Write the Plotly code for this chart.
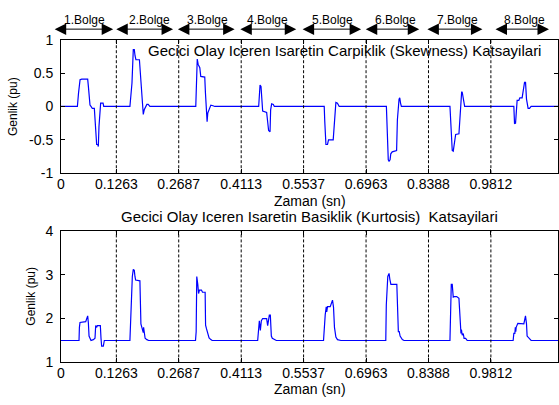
import plotly.graph_objects as go

# ---------------- data ----------------
x_ticks = [0, 0.1263, 0.2687, 0.4113, 0.5537, 0.6963, 0.8388, 0.9812]
x_ticktext = ["0", "0.1263", "0.2687", "0.4113", "0.5537", "0.6963", "0.8388", "0.9812"]
region_labels = ["1.Bolge", "2.Bolge", "3.Bolge", "4.Bolge", "5.Bolge", "6.Bolge", "7.Bolge", "8.Bolge"]

skew_t = [0,
          0.0374, 0.0400, 0.0435, 0.0473, 0.0609, 0.0625, 0.0639, 0.0655, 0.0662, 0.0685, 0.0715, 0.0761,
          0.0776, 0.0799, 0.0814, 0.0840, 0.0852, 0.0867, 0.0890, 0.0905, 0.0960, 0.0975,
          0.1573, 0.1590, 0.1620, 0.1650, 0.1673, 0.1690, 0.1710, 0.1790, 0.1801, 0.1825, 0.1840, 0.1860,
          0.1878, 0.1900, 0.1930, 0.1960, 0.1990, 0.2029,
          0.3076, 0.3090, 0.3110, 0.3131, 0.3168, 0.3190, 0.3281, 0.3297, 0.3310, 0.3325, 0.3335, 0.3350,
          0.3395, 0.3420, 0.3470, 0.3509,
          0.4512, 0.4530, 0.4543, 0.4565, 0.4580, 0.4603, 0.4694, 0.4710, 0.4739, 0.4771, 0.4785, 0.4808,
          0.4846, 0.4869,
          0.6008, 0.6020, 0.6047, 0.6083, 0.6106, 0.6213, 0.6236, 0.6255, 0.6274, 0.6310, 0.6350,
          0.7427, 0.7440, 0.7470, 0.7488, 0.7511, 0.7527, 0.7560, 0.7660, 0.7678, 0.7716, 0.7732, 0.7750, 0.7769,
          0.8878, 0.8908, 0.8930, 0.8953, 0.8985, 0.9008, 0.9083, 0.9106, 0.9130, 0.9145, 0.9159, 0.9174, 0.9213,
          1.0336, 1.0352, 1.0375, 1.0398, 1.0411, 1.0450, 1.0473, 1.0525, 1.0560, 1.0580, 1.0603, 1.0625,
          1.0662, 1.0694, 1.0730,
          1.14]
skew_v = [0,
          0, 0.20, 0.40, 0.41, 0.41, 0.30, 0.18, 0.18, 0.02, 0.0, -0.03, -0.03,
          -0.20, -0.50, -0.57, -0.57, -0.60, -0.30, -0.02, 0.05, 0.05, 0.0,
          0, 0.15, 0.35, 0.85, 0.85, 0.76, 0.70, 0.70, 0.60, 0.25, 0.12, -0.05,
          -0.12, -0.05, 0.0, 0.03, 0.03, 0.0,
          0, 0.45, 0.71, 0.63, 0.58, 0.45, 0.44, 0.20, 0.02, -0.15, -0.23, -0.10,
          0.0, 0.02, 0.01, 0.0,
          0, 0.22, 0.32, 0.30, 0.09, -0.07, -0.09, -0.22, -0.36, -0.38, -0.05, 0.04,
          0.03, 0.0,
          0, -0.22, -0.57, -0.57, -0.50, -0.50, -0.25, 0.0, 0.06, 0.05, 0.0,
          0, -0.35, -0.80, -0.82, -0.80, -0.71, -0.68, -0.66, -0.20, 0.11, 0.13, 0.05, 0.0,
          0, -0.37, -0.66, -0.67, -0.51, -0.42, -0.41, -0.10, 0.15, 0.22, 0.21, 0.13, 0.0,
          0, -0.26, -0.25, 0.0, 0.09, 0.09, 0.13, 0.13, 0.25, 0.36, 0.36, 0.11,
          -0.03, -0.03, 0.0,
          0]

kurt_t = [0,
          0.0411, 0.0420, 0.0434, 0.0564, 0.0590, 0.0609, 0.0625, 0.0640, 0.0662, 0.0685, 0.0738, 0.0776,
          0.0792, 0.0815, 0.0830, 0.0898, 0.0913, 0.0928, 0.0966, 0.0989,
          0.1573, 0.1585, 0.1628, 0.1650, 0.1673, 0.1688, 0.1703, 0.1801, 0.1824, 0.1850, 0.1878, 0.1885,
          0.1901, 0.1920, 0.1960, 0.2000,
          0.3070, 0.3085, 0.3099, 0.3110, 0.3122, 0.3140, 0.3160, 0.3206, 0.3230, 0.3290, 0.3300, 0.3320,
          0.3350, 0.3380, 0.3420, 0.3450,
          0.4489, 0.4511, 0.4527, 0.4550, 0.4573, 0.4603, 0.4694, 0.4717, 0.4755, 0.4778, 0.4801, 0.4823,
          0.4869, 0.4915,
          0.5992, 0.6008, 0.6031, 0.6054, 0.6065, 0.6083, 0.6145, 0.6197, 0.6220, 0.6242, 0.6274, 0.6311, 0.6389,
          0.7413, 0.7425, 0.7459, 0.7488, 0.7505, 0.7530, 0.7665, 0.7678, 0.7700, 0.7720, 0.7740, 0.7791, 0.7830,
          0.8878, 0.8885, 0.8908, 0.8930, 0.8953, 0.8976, 0.9031, 0.9083, 0.9106, 0.9129, 0.9140, 0.9158,
          0.9182, 0.9200, 0.9236, 0.9272,
          1.0320, 1.0336, 1.0359, 1.0370, 1.0380, 1.0389, 1.0427, 1.0525, 1.0564, 1.0602, 1.0625, 1.0639,
          1.0678, 1.0730,
          1.14]
kurt_v = [1.5,
          1.5, 1.80, 1.91, 1.93, 2.00, 2.06, 1.90, 1.60, 1.55, 1.50, 1.52, 1.55,
          1.84, 1.80, 1.84, 1.84, 1.55, 1.37, 1.37, 1.5,
          1.5, 1.95, 2.96, 3.12, 3.10, 2.96, 2.88, 2.86, 1.88, 1.78, 1.68, 1.80,
          1.62, 1.55, 1.52, 1.5,
          1.5, 1.70, 2.96, 2.90, 2.78, 2.57, 2.65, 2.65, 2.60, 2.60, 1.85, 1.77,
          1.66, 1.56, 1.52, 1.5,
          1.5, 1.95, 1.95, 1.73, 1.95, 2.00, 2.00, 1.84, 2.08, 2.08, 1.60, 1.55,
          1.52, 1.5,
          1.5, 1.90, 2.09, 2.27, 2.15, 2.27, 2.27, 2.42, 2.26, 1.80, 1.58, 1.52, 1.5,
          1.5, 2.31, 2.96, 3.03, 2.90, 2.78, 2.78, 2.31, 1.70, 1.70, 1.60, 1.52, 1.5,
          1.5, 2.02, 2.78, 2.78, 2.49, 2.50, 2.50, 2.46, 1.89, 1.66, 1.75, 1.62,
          1.66, 1.55, 1.55, 1.5,
          1.5, 1.66, 1.66, 1.80, 1.70, 1.80, 1.89, 1.89, 1.88, 2.06, 1.88, 1.60,
          1.55, 1.5,
          1.5]

# ---------------- figure ----------------
W, H = 559, 405
L = 61
FONT = "Liberation Sans, Arial, sans-serif"

def px_x(p):
    return (p - L) / (W - L)

def px_y(p):
    return 1 - p / H

fig = go.Figure()
fig.add_trace(go.Scatter(x=skew_t, y=skew_v, mode="lines",
                         line=dict(color="#0000FF", width=1.2), xaxis="x", yaxis="y",
                         showlegend=False, hoverinfo="skip"))
fig.add_trace(go.Scatter(x=kurt_t, y=kurt_v, mode="lines",
                         line=dict(color="#0000FF", width=1.2), xaxis="x2", yaxis="y2",
                         showlegend=False, hoverinfo="skip"))

axis_style = dict(showline=True, linecolor="black", linewidth=1, mirror="ticks",
                  ticks="inside", ticklen=4, tickcolor="black", tickwidth=1,
                  showgrid=False, zeroline=False,
                  tickfont=dict(family=FONT, size=14, color="black"))

x_range = [0, (W - L) / 439.0]

fig.update_layout(
    width=W, height=H,
    margin=dict(l=L, r=0, t=0, b=0),
    paper_bgcolor="white", plot_bgcolor="white",
    font=dict(family=FONT, color="black"),
    xaxis=dict(domain=[0, 1], anchor="y", range=x_range, tickvals=x_ticks,
               ticktext=x_ticktext, ticklabelstandoff=-2, **axis_style),
    yaxis=dict(domain=[px_y(172), px_y(33)], anchor="x", range=[-1, 1],
               tickvals=[-1, -0.5, 0, 0.5, 1], ticktext=["-1", "-0.5", "0", "0.5", "1"],
               ticklabelstandoff=4, **axis_style),
    xaxis2=dict(domain=[0, 1], anchor="y2", range=x_range, tickvals=x_ticks,
                ticktext=x_ticktext, ticklabelstandoff=-2, **axis_style),
    yaxis2=dict(domain=[px_y(369), px_y(232)], anchor="x2", range=[1, 4],
                tickvals=[1, 2, 3, 4], ticktext=["1", "2", "3", "4"],
                ticklabelstandoff=4, **axis_style),
)

shapes = []
for xv in x_ticks[1:]:
    for xr, yr in (("x", "y domain"), ("x2", "y2 domain")):
        shapes.append(dict(type="line", xref=xr, yref=yr, x0=xv, x1=xv, y0=0, y1=1,
                           line=dict(color="black", width=1, dash="3px,2px")))
fig.update_layout(shapes=shapes)

ann = []
# titles
ann.append(dict(text="Gecici Olay Iceren Isaretin Carpiklik (Skewness) Katsayilari",
                xref="paper", yref="paper", x=px_x(345), y=px_y(44.5),
                xanchor="center", yanchor="middle", showarrow=False,
                font=dict(family=FONT, size=15, color="black")))
ann.append(dict(text="Gecici Olay Iceren Isaretin Basiklik (Kurtosis) \u00a0Katsayilari",
                xref="paper", yref="paper", x=px_x(310.5), y=px_y(217),
                xanchor="center", yanchor="middle", showarrow=False,
                font=dict(family=FONT, size=15, color="black")))
# x axis labels
for yy in (201, 397):
    ann.append(dict(text="Zaman (sn)", xref="paper", yref="paper", x=px_x(310), y=px_y(yy),
                    xanchor="center", yanchor="middle", showarrow=False,
                    font=dict(family=FONT, size=14, color="black")))
# y axis labels
for xx, yy in ((13, 103), (31.5, 300)):
    ann.append(dict(text="Genlik (pu)", xref="paper", yref="paper", x=px_x(xx), y=px_y(yy),
                    xanchor="center", yanchor="middle", textangle=-90, showarrow=False,
                    font=dict(family=FONT, size=12, color="black")))
# region arrows and labels
arrow_spans = [(53.3, 113.3), (115, 173.3), (176.7, 235), (239.3, 296.7),
               (301.7, 361.7), (365, 420), (426.7, 483.3), (495, 550)]
label_centers = [84.3, 149.3, 207.7, 268.3, 333.3, 396.3, 458, 525.8]
for (a, b), c, lab in zip(arrow_spans, label_centers, region_labels):
    ann.append(dict(text="", xref="paper", yref="paper", x=px_x(b), y=px_y(22),
                    ax=a - b, ay=0, axref="pixel", ayref="pixel",
                    showarrow=True, arrowhead=2, startarrowhead=2, arrowside="end+start",
                    arrowsize=2.3, startarrowsize=2.3, arrowwidth=1, arrowcolor="black",
                    standoff=0, startstandoff=0))
    ann.append(dict(text=lab, xref="paper", yref="paper", x=px_x(c), y=px_y(13),
                    xanchor="center", yanchor="middle", showarrow=False,
                    font=dict(family=FONT, size=12, color="black")))
fig.update_layout(annotations=ann)

fig.write_html("out.html")
